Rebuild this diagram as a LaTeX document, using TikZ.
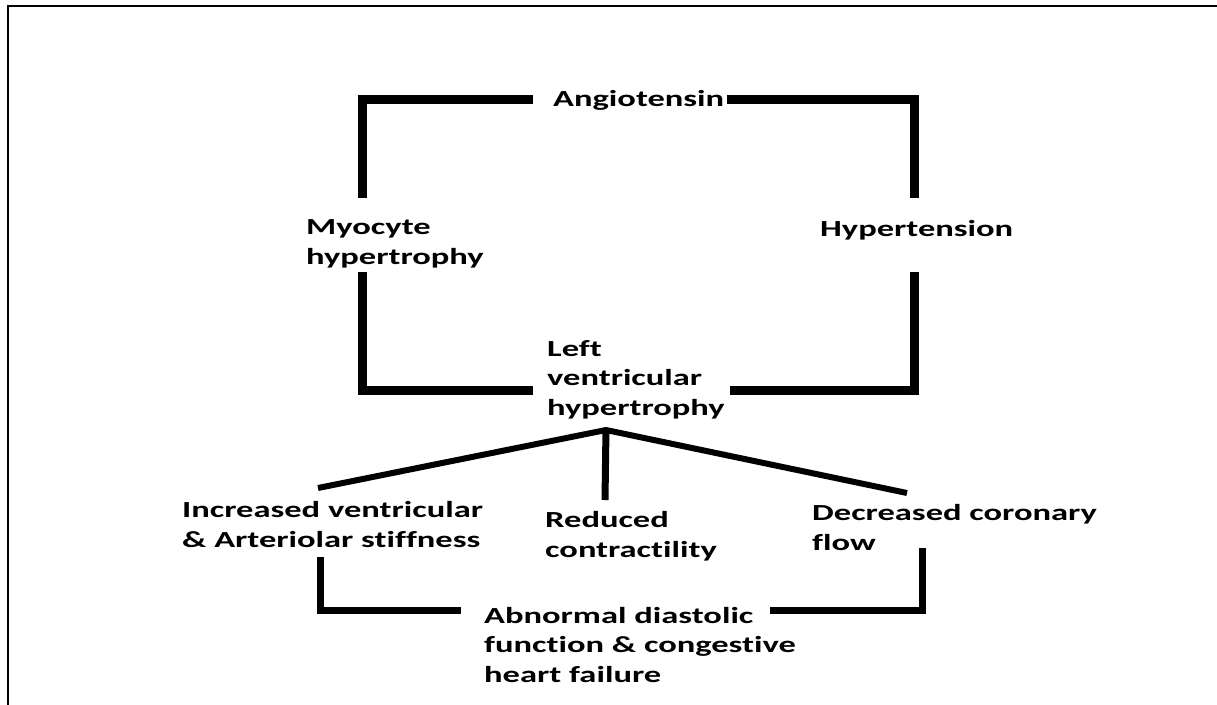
\documentclass[tikz,border=0pt]{standalone}
\usepackage{fontspec}
\newfontfamily\lbl{Carlito}[FakeStretch=1.5,Ligatures=NoCommon]
\begin{document}
\begin{tikzpicture}[x=1pt,y=-1pt,
  lab/.style={anchor=base west,inner sep=0pt,align=left,
    font=\lbl\bfseries\fontsize{23}{29.5}\selectfont},
  bar/.style={line width=9pt,line join=miter,line cap=butt},
  mid/.style={line width=7pt,line join=miter,line cap=butt},
  fan/.style={line width=6pt,line cap=butt}]
\clip (0,0) rectangle (1217,704);
\fill[white] (0,0) rectangle (1217,704);
% frame (extends beyond right and bottom edge)
\draw[line width=2pt] (8,720) -- (8,6) -- (1240,6);

% labels (anchored at the baseline of the last line)
\node[lab] (ang) at (553,106) {Angiotensin};
\node[lab] (myo) at (306,264) {Myocyte\\hypertrophy};
\node[lab] (hyp) at (820,236) {Hypertension};
\node[lab] (lvh) at (547,415) {Left\\ventricular\\hypertrophy};
\node[lab] (inc) at (182,547) {Increased ventricular\\\& Arteriolar stiffness};
\node[lab] (red) at (545,557) {Reduced\\contractility};
\node[lab] (dec) at (812,550) {Decreased coronary\\flow};
\node[lab] (abn) at (484,682) {Abnormal diastolic\\function \& congestive\\heart failure};

% connector end points
\coordinate (angL) at (533,99);
\coordinate (angR) at (727,99);
\coordinate (myoT) at (362,198);
\coordinate (myoB) at (362,272);
\coordinate (hypT) at (914,198);
\coordinate (hypB) at (914,272);
\coordinate (lvhL) at (533,390);
\coordinate (lvhR) at (730,390);
\coordinate (apex) at (606,430);
\coordinate (incT) at (318,488);
\coordinate (redT) at (605,500);
\coordinate (decT) at (907,493);
\coordinate (incB) at (320,557);
\coordinate (decB) at (922,548);
\coordinate (abnL) at (461,610);
\coordinate (abnR) at (770,610);

% connectors
\draw[bar] (angL) -| (myoT);
\draw[bar] (angR) -| (hypT);
\draw[bar] (myoB) |- (lvhL);
\draw[bar] (hypB) |- (lvhR);
\draw[fan] (incT) -- (apex) -- (decT);
\draw[mid] ([yshift=2pt]apex) -- (redT);
\draw[mid] (incB) |- (abnL);
\draw[mid] (decB) |- (abnR);
\end{tikzpicture}
\end{document}
